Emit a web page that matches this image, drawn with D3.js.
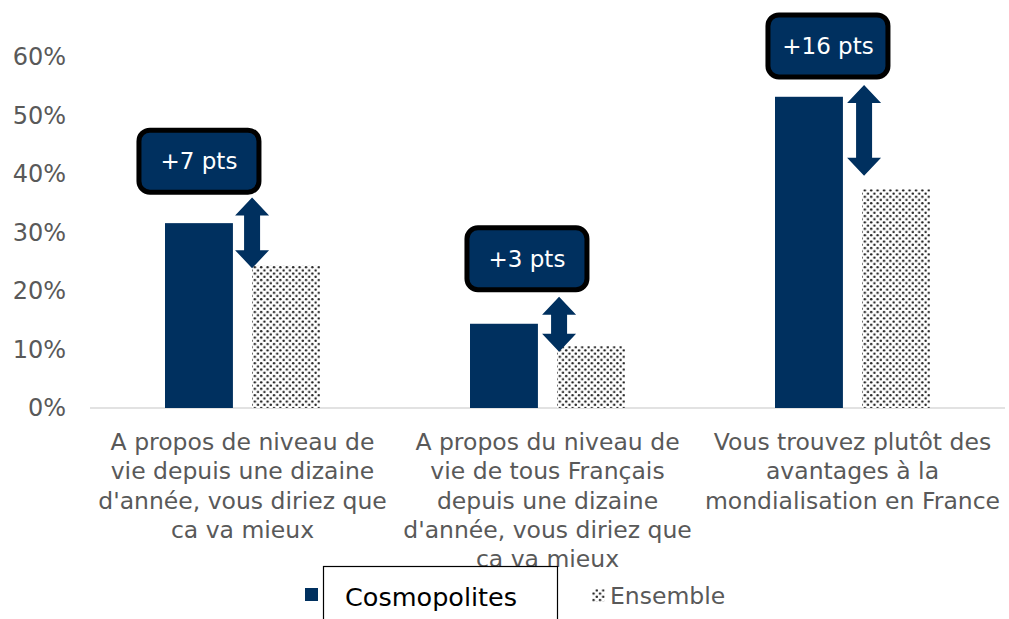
<!DOCTYPE html>
<html lang="fr">
<head>
<meta charset="UTF-8">
<script src="https://d3js.org/d3.v7.min.js"></script>
<style>
  body { margin: 0; background: #fff; }
  svg { display: block; }
  .tick text { font-family: "DejaVu Sans", Verdana, sans-serif; }
</style>
</head>
<body>
<script>
// data
var categories = [
  "A propos de niveau de\nvie depuis une dizaine\nd'année, vous diriez que\nca va mieux",
  "A propos du niveau de\nvie de tous Français\ndepuis une dizaine\nd'année, vous diriez que\nca va mieux",
  "Vous trouvez plutôt des\navantages à la\nmondialisation en France"
];
var seriesNames = ["Cosmopolites", "Ensemble"];
var cosmopolites = [31.6, 14.4, 53.2];
var ensemble = [24.4, 10.6, 37.4];
var gapLabels = ["+7 pts", "+3 pts", "+16 pts"];
var yTicks = [0, 10, 20, 30, 40, 50, 60];
// arrow ends and label box centres, in % units
var arrowTop = [36.0, 19.0, 55.2];
var arrowBottom = [23.9, 9.6, 39.7];
var boxCentre = [42.2, 25.5, 61.9];

var W = 1009, H = 619;
var navy = "#00305f";
var font = "'DejaVu Sans', Verdana, sans-serif";

var svg = d3.select("body").append("svg")
    .attr("width", W)
    .attr("height", H);

// dotted pattern for Ensemble
var defs = svg.append("defs");
var pat = defs.append("pattern")
    .attr("id", "dots")
    .attr("patternUnits", "userSpaceOnUse")
    .attr("width", 6.4).attr("height", 6.4);
pat.append("rect").attr("width", 6.4).attr("height", 6.4).attr("fill", "#fff");
pat.append("circle").attr("cx", 1.6).attr("cy", 1.6).attr("r", 1.2).attr("fill", "#1e1e1e");
pat.append("circle").attr("cx", 4.8).attr("cy", 4.8).attr("r", 1.2).attr("fill", "#1e1e1e");

var x0 = d3.scaleBand().domain(d3.range(categories.length)).range([90, 1005]);
var x1 = d3.scaleBand().domain(seriesNames).range([75, 230]).paddingInner(0.22);
var y = d3.scaleLinear().domain([0, 60]).range([408, 57]);

// y axis
var yAxis = svg.append("g")
    .attr("transform", "translate(90,0)")
    .call(d3.axisLeft(y).tickValues(yTicks).tickFormat(function(d) { return d + "%"; }).tickSize(0).tickPadding(24));
yAxis.select(".domain").remove();
yAxis.selectAll("text").attr("fill", "#595959").style("font-size", "24px");

// x axis line
svg.append("line")
    .attr("x1", 90).attr("x2", 1005)
    .attr("y1", y(0)).attr("y2", y(0))
    .attr("stroke", "#d9d9d9").attr("stroke-width", 1.5);

// bars
var groups = svg.selectAll(".grp")
    .data(categories)
  .enter().append("g")
    .attr("class", "grp")
    .attr("transform", function(d, i) { return "translate(" + x0(i) + ",0)"; });

groups.append("rect")
    .attr("x", x1("Cosmopolites"))
    .attr("width", x1.bandwidth())
    .attr("y", function(d, i) { return y(cosmopolites[i]); })
    .attr("height", function(d, i) { return y(0) - y(cosmopolites[i]); })
    .attr("fill", navy);

groups.append("rect")
    .attr("x", x1("Ensemble"))
    .attr("width", x1.bandwidth())
    .attr("y", function(d, i) { return y(ensemble[i]); })
    .attr("height", function(d, i) { return y(0) - y(ensemble[i]); })
    .attr("fill", "url(#dots)");

// double arrows
function arrowPath(cx, t, b) {
  var hw = 17, sw = 8, hh = 18;
  return "M" + cx + "," + t +
    "L" + (cx + hw) + "," + (t + hh) +
    "L" + (cx + sw) + "," + (t + hh) +
    "L" + (cx + sw) + "," + (b - hh) +
    "L" + (cx + hw) + "," + (b - hh) +
    "L" + cx + "," + b +
    "L" + (cx - hw) + "," + (b - hh) +
    "L" + (cx - sw) + "," + (b - hh) +
    "L" + (cx - sw) + "," + (t + hh) +
    "L" + (cx - hw) + "," + (t + hh) + "Z";
}
groups.append("path")
    .attr("d", function(d, i) {
      var cx = x1("Ensemble") + (i === 0 ? 0 : 2);
      return arrowPath(cx, y(arrowTop[i]), y(arrowBottom[i]));
    })
    .attr("fill", navy);

// label boxes
var boxOffset = [0, 23, 19];
var box = groups.append("g")
    .attr("transform", function(d, i) {
      var cx = x1("Cosmopolites") + x1.bandwidth() / 2 + boxOffset[i];
      return "translate(" + cx + "," + y(boxCentre[i]) + ")";
    });
box.append("rect")
    .attr("x", -60).attr("y", -31)
    .attr("width", 120).attr("height", 62)
    .attr("rx", 11)
    .attr("fill", navy)
    .attr("stroke", "#000")
    .attr("stroke-width", 5);
box.append("text")
    .attr("y", 8)
    .attr("text-anchor", "middle")
    .attr("fill", "#fff")
    .style("font-family", font)
    .style("font-size", "23px")
    .text(function(d, i) { return gapLabels[i]; });

// category labels
var lab = groups.append("text")
    .attr("text-anchor", "middle")
    .attr("fill", "#595959")
    .style("font-family", font)
    .style("font-size", "23.5px");
lab.selectAll("tspan")
    .data(function(d) { return d.split("\n"); })
  .enter().append("tspan")
    .attr("x", x0.bandwidth() / 2)
    .attr("y", function(d, i) { return 450 + i * 29.3; })
    .text(function(d) { return d; });

// legend
var leg = svg.append("g");
leg.append("rect")
    .attr("x", 305).attr("y", 588).attr("width", 13).attr("height", 13)
    .attr("fill", navy);
leg.append("rect")
    .attr("x", 323.5).attr("y", 566.5).attr("width", 234).attr("height", 60)
    .attr("fill", "none").attr("stroke", "#000").attr("stroke-width", 1.2);
leg.append("text")
    .attr("x", 345).attr("y", 606)
    .attr("fill", "#000")
    .style("font-family", font)
    .style("font-size", "25.5px")
    .text(seriesNames[0]);
leg.append("rect")
    .attr("x", 592).attr("y", 589).attr("width", 13).attr("height", 13)
    .attr("fill", "url(#dots)");
leg.append("text")
    .attr("x", 610).attr("y", 604)
    .attr("fill", "#595959")
    .style("font-family", font)
    .style("font-size", "23.5px")
    .text(seriesNames[1]);
</script>
</body>
</html>
